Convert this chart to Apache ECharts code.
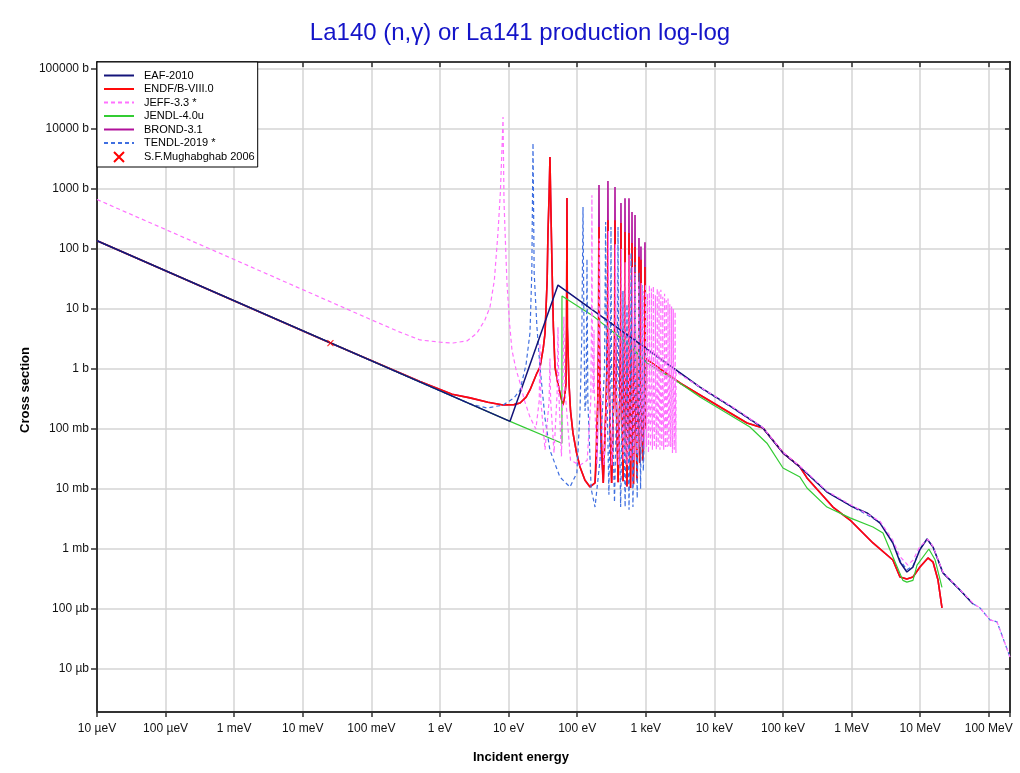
<!DOCTYPE html>
<html>
<head>
<meta charset="utf-8">
<script src="https://cdn.jsdelivr.net/npm/echarts@6/dist/echarts.min.js"></script>
<style>
html,body{margin:0;padding:0;background:#fff;}
#chart{width:1020px;height:773px;}
</style>
</head>
<body>
<div id="chart"></div>
<script>
// ---- tick labels ----
const xTickExponents = [-5,-4,-3,-2,-1,0,1,2,3,4,5,6,7,8];
const xTickLabels = ['10 µeV','100 µeV','1 meV','10 meV','100 meV','1 eV','10 eV','100 eV','1 keV','10 keV','100 keV','1 MeV','10 MeV','100 MeV'];
const yTickExponents = [-5,-4,-3,-2,-1,0,1,2,3,4,5];
const yTickLabels = ['10 µb','100 µb','1 mb','10 mb','100 mb','1 b','10 b','100 b','1000 b','10000 b','100000 b'];

// ---- data: [energy (eV), cross section (b)] ----
const eaf2010 = [[1e-5,137],[10.5,0.134],[52.5,25],[6170,0.5],[18700,0.224],[51100,0.104],[1e5,0.04],[1.77e5,0.0233],[4.38e5,0.0089],[1.05e6,0.005],[1.68e6,0.004],[2.6e6,0.0027],[4e6,0.00126],[5.08e6,0.000607],[6.4e6,0.000414],[7.85e6,0.0005],[9.93e6,0.00098],[1.26e7,0.00147],[1.54e7,0.00108],[2.15e7,0.0004],[3.8e7,0.000207],[5.9e7,0.000121]];

const endfLow = [[1e-5,137],[0.0253,2.72],[0.2,0.98],[0.51,0.62],[1.5,0.38],[2.74,0.33],[5,0.28],[8.3,0.251],[12,0.255],[14.7,0.271],[18,0.34],[20.5,0.447],[25.9,0.857],[28.7,1.08],[32,2.2],[34,3.98],[36.5,30],[37.5,185],[39,800],[40.1,3410],[41,800],[43,50],[45,5],[47.5,1.08],[52,0.6],[56,0.4],[62,0.251],[66,0.35],[68.7,0.585],[70,5],[71,708],[72,5],[75.9,0.585],[80,0.2],[86.8,0.086],[98,0.04],[110,0.0233],[130,0.014],[154,0.0108],[182,0.0126]];
const endfRes = [[200,0.3],[206,3],[208,233],[210,3],[216,0.3],[240,0.0126],[265,0.3],[278,3],[281,300],[284,3],[296,0.3],[318,0.0126],[340,0.3],[352,3],[356,300],[360,3],[372,0.3],[395,0.013],[418,0.3],[430,3],[435,270],[440,3],[452,0.3],[466,0.0135],[482,0.3],[493,3],[498,192],[503,3],[514,0.3],[532,0.011],[552,0.3],[564,3],[569,185],[575,3],[586,0.3],[600,0.0104],[615,0.3],[624,3],[630,126],[636,3],[645,0.3],[662,0.012],[680,0.3],[691,3],[697,108],[703,3],[715,0.3],[745,0.014],[775,0.3],[790,3],[796,74],[802,3],[812,0.3],[822,0.027],[838,0.3],[846,3],[851,66],[856,3],[868,0.3],[905,0.03],[955,0.3],[967,3],[973,50],[979,3],[985,0.1],[990,1.5]];
const endfFast = [[3150,0.585],[6170,0.369],[29900,0.126],[51100,0.104],[1e5,0.04],[1.77e5,0.0233],[2.24e5,0.0153],[5.35e5,0.005],[9.5e5,0.00304],[2.05e6,0.00126],[4e6,0.000656],[5.08e6,0.000341],[6.4e6,0.000316],[7.85e6,0.000341],[9.93e6,0.0005],[1.3e7,0.000708],[1.54e7,0.000607],[1.82e7,0.000304],[2.08e7,0.000104]];

const brondRes = [[196,0.05],[204,3],[208,1170],[212,3],[222,0.05],[240,0.0126],[265,0.3],[277,5],[281,1360],[285,5],[296,0.3],[318,0.0126],[340,0.3],[351,5],[356,1080],[361,5],[372,0.3],[395,0.013],[418,0.3],[430,5],[435,585],[440,5],[452,0.3],[466,0.0135],[482,0.3],[492,5],[498,700],[504,5],[514,0.3],[532,0.011],[552,0.3],[563,5],[569,700],[575,5],[586,0.3],[600,0.0104],[615,0.3],[624,5],[630,414],[636,5],[645,0.3],[662,0.012],[680,0.3],[690,5],[697,369],[704,5],[715,0.3],[745,0.014],[775,0.3],[789,5],[796,152],[803,5],[812,0.3],[822,0.027],[838,0.3],[845,5],[851,110],[857,5],[868,0.3],[905,0.03],[955,0.3],[966,5],[973,130],[980,5],[985,0.1],[990,1.5]];

const jeffLow = [[1e-5,668],[1e-3,66.8],[0.1,6.6],[0.25,4.2],[0.51,3.05],[1.0,2.8],[1.55,2.71],[2.5,2.95],[3.46,3.98],[4.5,6.5],[5.36,10.8],[6.2,30],[7.0,185],[7.6,900],[8.0,4470],[8.3,15850],[8.57,656],[8.9,185],[9.48,27],[10.3,6],[11.2,2.07],[12.8,1],[14.7,0.585],[17,0.3],[20.5,0.158],[25,0.1]];
const jeffRes = [[28,0.3],[28.7,2.7],[29.5,0.3],[34,0.045],[39,0.3],[40.1,1.5],[41,0.3],[46,0.04],[51,0.4],[52.5,5],[54,0.4],[59,0.035],[62,0.5],[64,7.4],[66,0.5],[80,0.03],[110,0.025],[140,0.03],[158,0.3],[162,8],[164,790],[166,8],[170,0.4],[174,0.5],[176,4.5],[178,0.4],[195,0.025],[205,1],[210,150],[215,1],[245,0.025],[280,1],[285,200],[290,1],[320,0.025],[355,1],[360,120],[365,1],[400,0.025],[435,1],[440,100],[445,1],[470,0.03],[495,1],[500,60],[505,1],[535,0.025],[565,1],[570,80],[575,1],[605,0.03],[636,1],[640,50],[645,1],[670,0.03],[695,1],[700,40],[705,1],[750,0.04],[785,1],[790,30],[795,1],[830,0.05],[855,1],[860,27],[866,0.8],[890,0.06],[915,0.8],[920,20],[925,0.8],[955,0.045],[985,0.8],[990,26],[995,0.8],[1025,0.05],[1055,0.8],[1060,18],[1066,0.8],[1095,0.04],[1125,0.8],[1130,25],[1137,0.8],[1170,0.05],[1203,0.8],[1210,22],[1217,0.8],[1250,0.045],[1283,0.8],[1290,24],[1297,0.8],[1335,0.05],[1372,0.8],[1380,17],[1388,0.8],[1425,0.045],[1462,0.8],[1470,22],[1478,0.8],[1515,0.05],[1552,0.8],[1560,20],[1568,0.8],[1610,0.045],[1652,0.8],[1660,21],[1668,0.8],[1715,0.05],[1760,0.8],[1770,16],[1780,0.8],[1825,0.045],[1870,0.8],[1880,18],[1890,0.8],[1935,0.05],[1980,0.8],[1990,14],[2000,0.8],[2050,0.05],[2100,0.8],[2110,15],[2120,0.8],[2175,0.05],[2230,0.8],[2240,12],[2250,0.8],[2310,0.05],[2370,0.8],[2380,11],[2390,0.8],[2450,0.04],[2510,0.8],[2520,10],[2530,0.8],[2600,0.045],[2670,0.8],[2680,9],[2690,0.8],[2750,0.04],[2760,0.9]];
const jeffFast = [[6170,0.5],[18700,0.23],[51100,0.106],[1e5,0.041],[1.77e5,0.024],[4.38e5,0.0092],[1.05e6,0.0052],[2.6e6,0.0029],[4e6,0.0014],[5.08e6,0.00075],[6.6e6,0.00054],[7.85e6,0.00065],[9.93e6,0.0011],[1.3e7,0.00145],[1.54e7,0.0011],[2.15e7,0.00041],[3.8e7,0.00021],[5.9e7,0.000125],[7.45e7,0.000104],[1.04e8,6.6e-5],[1.32e8,6.1e-5],[2.04e8,1.58e-5]];

const jendl40u = [[1e-5,137],[10.5,0.134],[60,0.058],[60,16.5],[164,7.9],[532,2.71],[1040,1.26],[3150,0.58],[6170,0.341],[33000,0.108],[58400,0.058],[1e5,0.0224],[1.77e5,0.0158],[2.24e5,0.0104],[4.38e5,0.005],[9.5e5,0.0033],[2.05e6,0.00233],[2.87e6,0.00185],[4e6,0.00074],[5.6e6,0.0003],[6.4e6,0.00028],[7.85e6,0.0003],[9e6,0.00054],[1.34e7,0.001],[1.65e7,0.00066],[2.08e7,0.00023]];

const tendlLow = [[1e-5,137],[1,0.433],[2.74,0.262],[4.84,0.224],[8.3,0.251],[12,0.33],[14.7,0.447],[18,1.2],[20.5,3.98],[21.8,40],[22.7,5850],[23.6,40],[25.9,5],[28.7,1.08],[34,0.15],[40,0.0447],[56,0.0158],[78.5,0.0108],[99,0.0185],[110,0.2],[117,3.98],[121.6,500],[125.7,4],[130,0.2],[135,0.3],[139,68],[143,0.3],[160,0.01],[182,0.005]];
const tendlRes = [[215,0.03],[250,1],[260,282],[268,1],[290,0.008],[305,1],[311,233],[317,1],[350,0.006],[385,1],[394,233],[402,1],[430,0.005],[458,0.5],[465,20],[472,0.5],[500,0.005],[525,0.5],[532,12],[540,0.5],[570,0.0045],[600,1],[610,86],[620,1],[650,0.005],[690,1],[700,60],[710,1],[750,0.007],[790,1],[800,40],[810,1],[840,0.01],[870,1],[880,25],[890,1],[920,0.02],[960,0.1],[970,2.2]];
const tendlFast = [[6170,0.49],[18700,0.222],[51100,0.103],[1e5,0.04],[1.77e5,0.0232],[4.38e5,0.009],[1.05e6,0.005],[2.6e6,0.0028],[4e6,0.0013],[5.08e6,0.00065],[6.4e6,0.00045],[7.85e6,0.00052],[9.93e6,0.001],[1.26e7,0.00146],[1.54e7,0.00108],[2.15e7,0.0004],[3.8e7,0.000207],[5.9e7,0.000122],[7.45e7,0.000104],[1.04e8,6.6e-5],[1.32e8,6.1e-5],[2.04e8,1.58e-5]];

const mughabghab2006 = [[0.0253,2.7]];

// ---- chart ----
const xMin = 1e-5, xMax = 2.04e8, yMin = 1.92e-6, yMax = 1.308e5;
const yTickValues = yTickExponents.map(e => Math.pow(10, e));

function expLabel(v, exps, labels) {
  const e = Math.log10(v);
  const r = Math.round(e);
  if (Math.abs(e - r) > 1e-6) return '';
  const i = exps.indexOf(r);
  return i < 0 ? '' : labels[i];
}

const chart = echarts.init(document.getElementById('chart'), null, {renderer: 'canvas'});
const font = 'Liberation Sans, Arial, sans-serif';

function lineSeries(name, data, color, dashed, z, width) {
  return {
    name: name, type: 'line', data: data, symbol: 'none', showSymbol: false,
    z: z, animation: false,
    lineStyle: {color: color, width: width || 1.5, type: dashed ? [4, 3] : 'solid'},
    itemStyle: {color: color}
  };
}

const option = {
  animation: false,
  backgroundColor: '#fff',
  grid: {left: 97, right: 10, top: 62, bottom: 61, containLabel: false},
  xAxis: [{
    type: 'log', logBase: 10, min: xMin, max: xMax, interval: 1,
    axisLine: {show: true, lineStyle: {color: '#333', width: 2}},
    axisTick: {show: true, length: 5, lineStyle: {color: '#333', width: 1.5}},
    axisLabel: {color: '#111', fontFamily: font, fontSize: 12, margin: 11,
      formatter: v => expLabel(v, xTickExponents, xTickLabels)},
    splitLine: {show: true, lineStyle: {color: '#d4d4d4', width: 1.5}},
    minorTick: {show: false}
  }, {
    type: 'log', logBase: 10, min: xMin, max: xMax, interval: 1, position: 'top',
    axisLine: {show: true, onZero: false, lineStyle: {color: '#000', width: 1.5}},
    axisTick: {show: true, inside: true, length: 5, lineStyle: {color: '#333', width: 1.5}},
    axisLabel: {show: false}, splitLine: {show: false}
  }],
  yAxis: [{
    type: 'log', logBase: 10, min: yMin, max: yMax,
    axisLine: {show: true, lineStyle: {color: '#333', width: 2}},
    axisTick: {show: true, length: 6, customValues: yTickValues, lineStyle: {color: '#333', width: 1.5}},
    axisLabel: {color: '#111', fontFamily: font, fontSize: 12, margin: 8, customValues: yTickValues,
      formatter: v => expLabel(v, yTickExponents, yTickLabels)},
    splitLine: {show: true, lineStyle: {color: '#d4d4d4', width: 1.5}}
  }, {
    type: 'log', logBase: 10, min: yMin, max: yMax, position: 'right',
    axisLine: {show: true, onZero: false, lineStyle: {color: '#333', width: 2}},
    axisTick: {show: true, inside: true, length: 5, customValues: yTickValues, lineStyle: {color: '#333', width: 1.5}},
    axisLabel: {show: false}, splitLine: {show: false}
  }],
  legend: {
    orient: 'vertical', left: 97, top: 62, z: 20,
    backgroundColor: '#fff', borderColor: '#000', borderWidth: 1,
    padding: [8, 3, 4, 6], itemWidth: 30, itemHeight: 10, itemGap: 2.5,
    itemStyle: {opacity: 0},
    textStyle: {fontFamily: font, fontSize: 11, color: '#000', padding: [0, 0, 0, 5], lineHeight: 10},
    data: ['EAF-2010', 'ENDF/B-VIII.0', 'JEFF-3.3 *', 'JENDL-4.0u', 'BROND-3.1', 'TENDL-2019 *',
      {name: 'S.F.Mughabghab 2006', itemStyle: {opacity: 1}}]
  },
  graphic: [
    {type: 'text', style: {text: 'La140 (n,γ) or La141 production log-log', x: 520, y: 33, fill: '#1414c8', font: '24px ' + font, textAlign: 'center', textVerticalAlign: 'middle'}},
    {type: 'text', style: {text: 'Incident energy', x: 521, y: 757, fill: '#000', font: 'bold 13px ' + font, textAlign: 'center', textVerticalAlign: 'middle'}},
    {type: 'text', rotation: Math.PI / 2, x: 25, y: 390, style: {text: 'Cross section', x: 0, y: 0, fill: '#000', font: 'bold 13px ' + font, textAlign: 'center', textVerticalAlign: 'middle'}}
  ],
  series: [
    lineSeries('BROND-3.1', endfLow.concat(brondRes, endfFast), '#b0109a', false, 2, 1.6),
    lineSeries('ENDF/B-VIII.0', endfLow.concat(endfRes, endfFast), '#ff0a0a', false, 3, 1.6),
    lineSeries('JENDL-4.0u', jendl40u, '#33cc33', false, 4, 1.2),
    lineSeries('TENDL-2019 *', tendlLow.concat(tendlRes, tendlFast), '#3f6fe0', true, 5, 1.2),
    lineSeries('EAF-2010', eaf2010, '#14147a', false, 6, 1.5),
    lineSeries('JEFF-3.3 *', jeffLow.concat(jeffRes, jeffFast), '#ff70ff', true, 7, 1.2),
    {
      name: 'S.F.Mughabghab 2006', type: 'scatter', data: mughabghab2006, z: 8,
      symbol: 'path://M0,0L10,10M10,0L0,10', symbolSize: 6,
      itemStyle: {color: 'transparent', borderColor: '#ff0000', borderWidth: 1.2}
    }
  ]
};
chart.setOption(option);
</script>
</body>
</html>
